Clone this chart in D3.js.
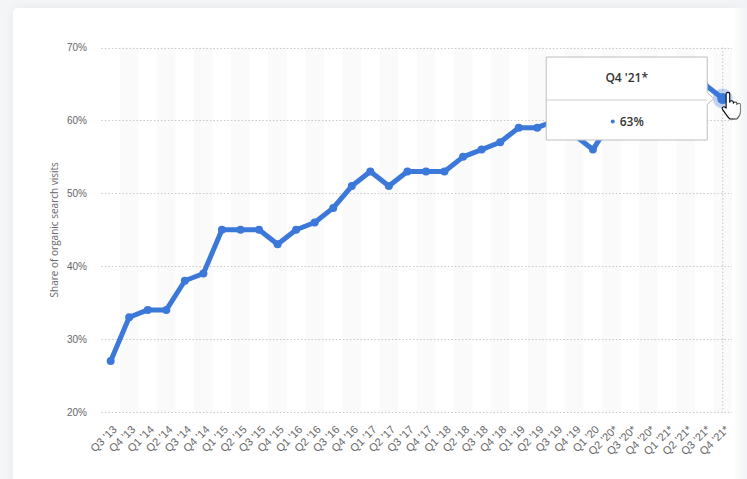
<!DOCTYPE html>
<html lang="en">
<head>
    <meta charset="UTF-8">
    <title>Share of organic search visits</title>
    <script src="https://d3js.org/d3.v7.min.js"></script>
    <style>
        body {
            margin: 0;
            padding: 0;
            background-color: #f4f5f7;
            font-family: "Open Sans", Arial, sans-serif;
        }
        .grid line {
            stroke: #c8c8c8;
            stroke-dasharray: 1.5 2;
        }
        .tick-label {
            font-size: 10px;
            fill: #666;
        }
        .x-label {
            font-size: 11px;
            fill: #666;
        }
    </style>
</head>
<body>
    <svg width="747" height="479"></svg>
    <script>
        const quarters = ["Q3 '13", "Q4 '13", "Q1 '14", "Q2 '14", "Q3 '14", "Q4 '14",
            "Q1 '15", "Q2 '15", "Q3 '15", "Q4 '15", "Q1 '16", "Q2 '16", "Q3 '16", "Q4 '16",
            "Q1 '17", "Q2 '17", "Q3 '17", "Q4 '17", "Q1 '18", "Q2 '18", "Q3 '18", "Q4 '18",
            "Q1 '19", "Q2 '19", "Q3 '19", "Q4 '19", "Q1 '20", "Q2 '20*", "Q3 '20*", "Q4 '20*",
            "Q1 '21*", "Q2 '21*", "Q3 '21*", "Q4 '21*"];
        const shares = [27, 33, 34, 34, 38, 39, 45, 45, 45, 43, 45, 46, 48, 51,
            53, 51, 53, 53, 53, 55, 56, 57, 59, 59, 60, 58, 56, 60, 61, 62,
            63, 64, 65, 63];
        const yTicks = [20, 30, 40, 50, 60, 70];
        const hovered = "Q4 '21*";

        const svg = d3.select("svg");
        const W = 747, H = 479;

        // card
        const defs = svg.append("defs");
        const shadow = defs.append("filter").attr("id", "shadow")
            .attr("x", "-5%").attr("y", "-5%").attr("width", "110%").attr("height", "110%");
        shadow.append("feDropShadow").attr("dx", 0).attr("dy", 0)
            .attr("stdDeviation", 4).attr("flood-color", "#000").attr("flood-opacity", 0.05);
        svg.append("rect")
            .attr("x", 13).attr("y", 8).attr("width", 760).attr("height", 500)
            .attr("rx", 5).attr("fill", "#fff").attr("filter", "url(#shadow)");

        const x = d3.scaleBand().domain(quarters).range([101.4, 732]).padding(0);
        const y = d3.scaleLinear().domain([20, 70]).range([412, 47.5]);
        const cx = d => x(d) + x.bandwidth() / 2;

        // alternating bands
        svg.append("g")
            .selectAll("rect")
            .data(quarters.filter((d, i) => i % 2 === 1))
            .enter().append("rect")
            .attr("x", d => x(d))
            .attr("y", y(70))
            .attr("width", x.bandwidth())
            .attr("height", y(20) - y(70))
            .attr("fill", "#fafafa");

        // grid
        svg.append("g")
            .attr("class", "grid")
            .selectAll("line")
            .data(yTicks)
            .enter().append("line")
            .attr("x1", x.range()[0])
            .attr("x2", x.range()[1])
            .attr("y1", d => Math.round(y(d)) + 0.5)
            .attr("y2", d => Math.round(y(d)) + 0.5);

        // hover crosshair
        svg.append("line")
            .attr("x1", cx(hovered)).attr("x2", cx(hovered))
            .attr("y1", y(70)).attr("y2", y(20))
            .attr("stroke", "#c8c8c8").attr("stroke-dasharray", "1.5 2");

        // y axis
        const yAxis = d3.axisLeft(y).tickValues(yTicks).tickSize(0).tickPadding(0)
            .tickFormat(d => d + "%");
        svg.append("g")
            .attr("transform", "translate(87,0)")
            .call(yAxis)
            .call(g => g.select(".domain").remove())
            .call(g => g.selectAll("text").attr("class", "tick-label")
                .attr("font-family", null).attr("font-size", null));

        svg.append("text")
            .attr("class", "tick-label")
            .attr("transform", `translate(58,${(y(70) + y(20)) / 2}) rotate(-90)`)
            .attr("text-anchor", "middle")
            .text("Share of organic search visits");

        // x axis labels
        const xAxis = d3.axisBottom(x).tickSize(0).tickPadding(0);
        svg.append("g")
            .attr("transform", `translate(0,${y(20) + 14})`)
            .call(xAxis)
            .call(g => g.select(".domain").remove())
            .call(g => g.selectAll("text")
                .attr("class", "x-label")
                .attr("font-family", null).attr("font-size", null)
                .attr("text-anchor", "end")
                .attr("dy", "0.35em")
                .attr("y", 0)
                .attr("x", 0)
                .attr("transform", "rotate(-45) translate(2,4)"));

        // line
        const points = quarters.map((q, i) => ({ q, v: shares[i] }));
        const line = d3.line().x(d => cx(d.q)).y(d => y(d.v));
        svg.append("path")
            .datum(points)
            .attr("d", line)
            .attr("fill", "none")
            .attr("stroke", "#3b78d9")
            .attr("stroke-width", 5)
            .attr("stroke-linejoin", "round")
            .attr("stroke-linecap", "round");

        svg.append("g")
            .selectAll("circle")
            .data(points)
            .enter().append("circle")
            .attr("cx", d => cx(d.q))
            .attr("cy", d => y(d.v))
            .attr("r", 4)
            .attr("fill", "#3b78d9");

        // hovered point
        const hp = points.find(d => d.q === hovered);
        const hx = cx(hp.q), hy = y(hp.v);
        svg.append("circle").attr("cx", hx).attr("cy", hy).attr("r", 10)
            .attr("fill", "#3b78d9").attr("opacity", 0.3);
        svg.append("circle").attr("cx", hx).attr("cy", hy).attr("r", 5.5)
            .attr("fill", "#3b78d9");

        // tooltip
        const tw = 162, th = 84;
        const tx = hx - 15 - tw, ty = hy - 42;
        const tip = svg.append("g").attr("transform", `translate(${tx},${ty})`);
        tip.append("path")
            .attr("d", `M0.5,0.5 H${tw - 0.5} V${th / 2 - 6} L${tw + 6},${th / 2} L${tw - 0.5},${th / 2 + 6} V${th - 0.5} H0.5 Z`)
            .attr("fill", "#fff")
            .attr("stroke", "#bdbdbd");
        tip.append("line")
            .attr("x1", 0.5).attr("x2", tw - 0.5)
            .attr("y1", 43.5).attr("y2", 43.5)
            .attr("stroke", "#cfcfcf");
        tip.append("text")
            .attr("x", tw / 2).attr("y", 25)
            .attr("text-anchor", "middle")
            .attr("font-size", 12).attr("font-weight", 600).attr("fill", "#333")
            .text(hovered);
        tip.append("circle")
            .attr("cx", tw / 2 - 14).attr("cy", 65).attr("r", 2).attr("fill", "#3b78d9");
        tip.append("text")
            .attr("x", tw / 2 - 7).attr("y", 69.5)
            .attr("font-size", 12).attr("font-weight", 600).attr("fill", "#333")
            .text(hp.v + "%");

        // cursor hand
        svg.append("path")
            .attr("transform", `translate(${hx + 1},${hy - 6}) scale(1.2)`)
            .attr("d", "M2,1 C2,-0.5 5,-0.5 5,1 L5,8 C5,6.5 8,6.5 8,8 L8,9 C8,7.5 11,7.5 11,9 L11,10 C11,8.5 14,8.5 14,10 L14,16 C14,19 12,21 11,22 L5,22 C4,21 1,17 -1,14 C-2,12.5 0,11 1.5,12.5 L2,13 Z")
            .attr("fill", "#fff")
            .attr("stroke", "#000")
            .attr("stroke-width", 0.9)
            .attr("stroke-linejoin", "round");

        // right fade
        const fade = defs.append("linearGradient").attr("id", "fade");
        fade.append("stop").attr("offset", "0%").attr("stop-color", "#f4f5f7").attr("stop-opacity", 0);
        fade.append("stop").attr("offset", "100%").attr("stop-color", "#f1f2f5").attr("stop-opacity", 1);
        svg.append("rect")
            .attr("x", 733).attr("y", 0).attr("width", 14).attr("height", H)
            .attr("fill", "url(#fade)");
    </script>
</body>
</html>
